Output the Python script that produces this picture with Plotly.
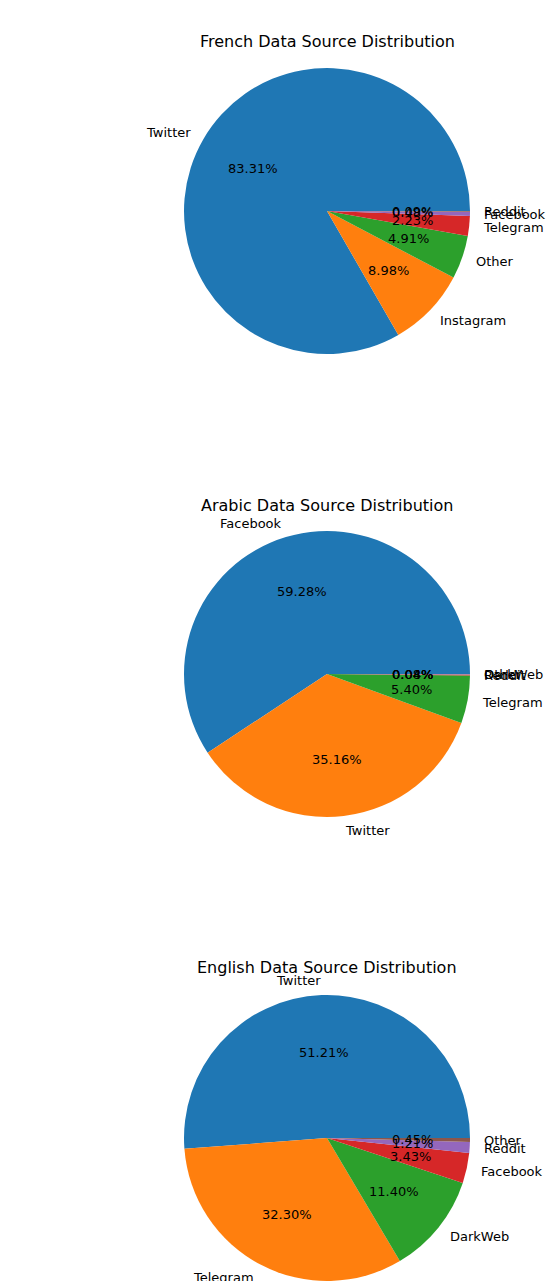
import math
import plotly.graph_objects as go

W, H = 550, 1281

# ---- data ----
fr_labels = ["Twitter", "Instagram", "Other", "Telegram", "Facebook", "Reddit"]
fr_values = [83.31, 8.98, 4.91, 2.23, 0.48, 0.09]

ar_labels = ["Facebook", "Twitter", "Telegram", "Reddit", "DarkWeb", "Other"]
ar_values = [59.28, 35.16, 5.40, 0.08, 0.04, 0.04]

en_labels = ["Twitter", "Telegram", "DarkWeb", "Facebook", "Reddit", "Other"]
en_values = [51.21, 32.30, 11.40, 3.43, 1.21, 0.45]

titles = ["French Data Source Distribution",
          "Arabic Data Source Distribution",
          "English Data Source Distribution"]

colors = ["#1f77b4", "#ff7f0e", "#2ca02c", "#d62728", "#9467bd", "#8c564b"]

# layout (pixels)
CX = 327
CYS = [211, 674, 1138]
R = 143
TITLE_Y = [41, 505, 968]
FONT = "DejaVu Sans"

fig = go.Figure()
annotations = []

for labels, values, cy, title, ty in zip(
        [fr_labels, ar_labels, en_labels],
        [fr_values, ar_values, en_values], CYS, titles, TITLE_Y):
    x0 = (CX - R) / W
    x1 = (CX + R) / W
    y0 = 1 - (cy + R) / H
    y1 = 1 - (cy - R) / H
    total = sum(values)
    # plotly (counterclockwise) places the first slice ending at `rotation`;
    # shift so the first slice starts at 3 o'clock like matplotlib
    rot = 90 - values[0] / total * 360
    fig.add_trace(go.Pie(
        labels=labels, values=values, sort=False,
        direction="counterclockwise", rotation=rot,
        marker=dict(colors=colors, line=dict(width=0)),
        textinfo="none", hoverinfo="label+percent",
        domain=dict(x=[x0, x1], y=[y0, y1]), showlegend=False,
    ))
    cum = 0.0
    for lab, v in zip(labels, values):
        mid = (cum + v / 2) / total * 2 * math.pi
        cum += v
        c, s = math.cos(mid), math.sin(mid)
        # category label at 1.1 R
        lx = CX + 1.1 * R * c
        ly = cy - 1.1 * R * s
        annotations.append(dict(
            x=lx / W, y=1 - ly / H, xref="paper", yref="paper",
            text=lab, showarrow=False, borderpad=0, borderwidth=0,
            xanchor="left" if c > 0 else "right", yanchor="middle",
            font=dict(family=FONT, size=13, color="black")))
        # percentage at 0.6 R
        px = CX + 0.6 * R * c
        py = cy - 0.6 * R * s
        annotations.append(dict(
            x=px / W, y=1 - py / H, xref="paper", yref="paper",
            text=f"{v / total * 100:.2f}%", showarrow=False,
            borderpad=0, borderwidth=0,
            xanchor="center", yanchor="middle",
            font=dict(family=FONT, size=13, color="black")))
    annotations.append(dict(
        x=CX / W, y=1 - ty / H, xref="paper", yref="paper",
        text=title, showarrow=False, xanchor="center", yanchor="middle",
        font=dict(family=FONT, size=16, color="black")))

fig.update_layout(
    width=W, height=H,
    margin=dict(l=0, r=0, t=0, b=0),
    paper_bgcolor="white", plot_bgcolor="white",
    annotations=annotations,
)

fig.write_html(
    "out.html",
    config={"displayModeBar": False},
    post_script="document.body.style.margin='0';document.body.style.padding='0';",
)
